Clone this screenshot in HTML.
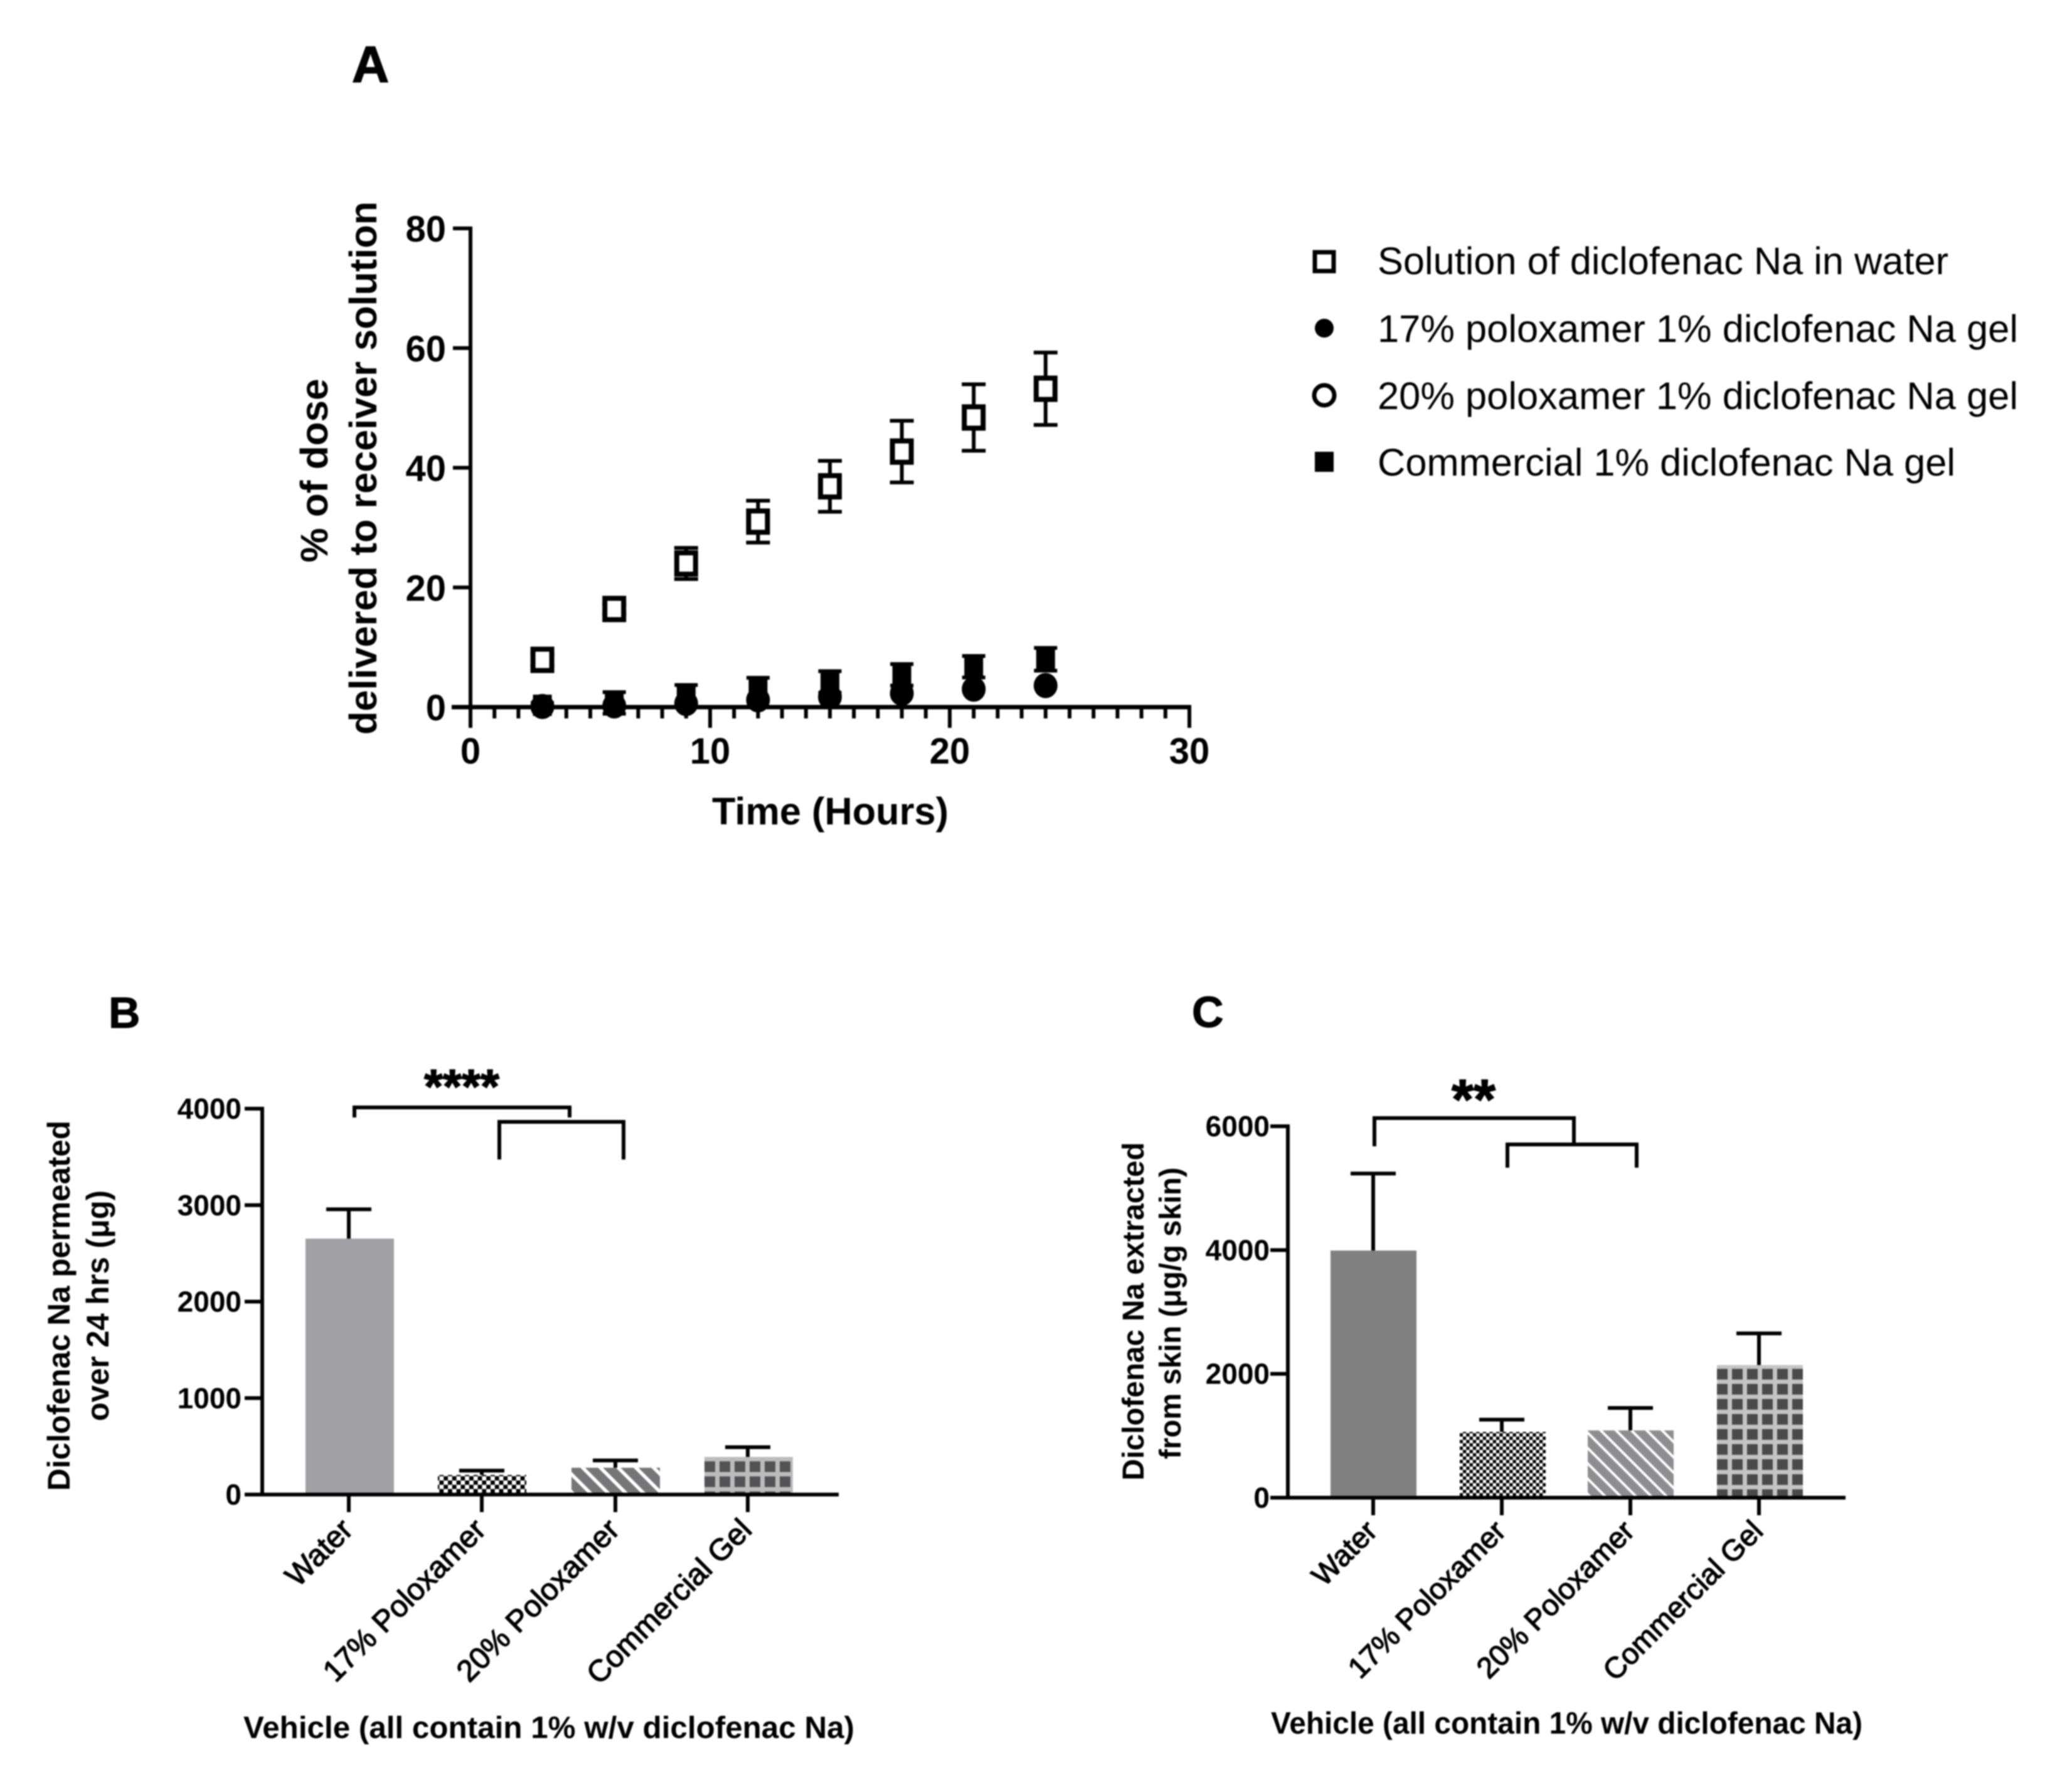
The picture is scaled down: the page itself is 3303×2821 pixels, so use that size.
<!DOCTYPE html>
<html lang="en">
<head>
<meta charset="utf-8">
<title>Diclofenac Na permeation and extraction</title>
<style>
html,body{margin:0;padding:0;background:#fff;}
svg{display:block;filter:blur(1px);}
text{font-family:"Liberation Sans",Arial,sans-serif;fill:#000;}
.b{font-weight:bold;}
</style>
</head>
<body>
<svg id="fig" xmlns="http://www.w3.org/2000/svg" width="3303" height="2821" viewBox="0 0 3303 2821">
<defs>
  <pattern id="checkB" patternUnits="userSpaceOnUse" width="13.6" height="13.6"><rect width="13.6" height="13.6" fill="#fff"/><rect width="6.8" height="6.8" fill="#000"/><rect x="6.8" y="6.8" width="6.8" height="6.8" fill="#000"/></pattern>
  <pattern id="checkC" patternUnits="userSpaceOnUse" width="10.6" height="10.6"><rect width="10.6" height="10.6" fill="#fff"/><rect width="5.3" height="5.3" fill="#000"/><rect x="5.3" y="5.3" width="5.3" height="5.3" fill="#000"/></pattern>
  <pattern id="diagB" patternUnits="userSpaceOnUse" width="20" height="20" patternTransform="rotate(-45)"><rect width="20" height="20" fill="#767678"/><rect width="5.5" height="20" fill="#fff"/></pattern>
  <pattern id="diagC" patternUnits="userSpaceOnUse" width="17.3" height="17.3" patternTransform="rotate(-45)"><rect width="17.3" height="17.3" fill="#8e8e90"/><rect width="4" height="17.3" fill="#fff"/></pattern>
  <pattern id="gridB" patternUnits="userSpaceOnUse" width="24" height="24"><rect width="24" height="24" fill="#bcbcbc"/><rect x="0" y="7" width="17" height="17" fill="#535355"/></pattern>
  <pattern id="gridC" patternUnits="userSpaceOnUse" width="24" height="24"><rect width="24" height="24" fill="#c4c4c4"/><rect x="0" y="6" width="17" height="17" fill="#4a4a4a"/></pattern>
</defs>

<text class="b" x="561" y="131" font-size="82" stroke="#000" stroke-width="1.5">A</text>
<text class="b" x="173" y="1638" font-size="70" stroke="#000" stroke-width="1">B</text>
<text class="b" x="1900" y="1637" font-size="70" stroke="#000" stroke-width="1">C</text>

<text class="b" transform="translate(522,750) rotate(-90)" text-anchor="middle" font-size="61" textLength="293" lengthAdjust="spacingAndGlyphs">% of dose</text>
<text class="b" transform="translate(600,746) rotate(-90)" text-anchor="middle" font-size="61" textLength="850" lengthAdjust="spacingAndGlyphs">delivered to receiver solution</text>
<text class="b" x="1135" y="1314" font-size="61" textLength="377" lengthAdjust="spacingAndGlyphs">Time (Hours)</text>

<text x="2196" y="437" font-size="61" textLength="910" lengthAdjust="spacingAndGlyphs">Solution of diclofenac Na in water</text>
<text x="2196" y="545" font-size="61" textLength="1021" lengthAdjust="spacingAndGlyphs">17% poloxamer 1% diclofenac Na gel</text>
<text x="2196" y="652" font-size="61" textLength="1021" lengthAdjust="spacingAndGlyphs">20% poloxamer 1% diclofenac Na gel</text>
<text x="2196" y="758" font-size="61" textLength="921" lengthAdjust="spacingAndGlyphs">Commercial 1% diclofenac Na gel</text>
<rect x="2096" y="402" width="30" height="30" fill="#fff" stroke="#000" stroke-width="7"/>
<circle cx="2111" cy="523" r="15" fill="#000"/>
<circle cx="2111" cy="630" r="16" fill="#fff" stroke="#000" stroke-width="7"/>
<rect x="2096" y="720" width="30" height="32" fill="#000"/>

<text class="b" transform="translate(111,2081) rotate(-90)" text-anchor="middle" font-size="50" textLength="590" lengthAdjust="spacingAndGlyphs">Diclofenac Na permeated</text>
<text class="b" transform="translate(173,2081) rotate(-90)" text-anchor="middle" font-size="50" textLength="368" lengthAdjust="spacingAndGlyphs">over 24 hrs (μg)</text>
<text class="b" x="388" y="2770" font-size="49" textLength="974" lengthAdjust="spacingAndGlyphs">Vehicle (all contain 1% w/v diclofenac Na)</text>
<text class="b" x="736" y="1758" text-anchor="middle" font-size="77" stroke="#000" stroke-width="1.5">****</text>
<path d="M565 1781V1765H908V1781" fill="none" stroke="#000" stroke-width="6"/>
<path d="M796 1848V1788H994V1848" fill="none" stroke="#000" stroke-width="6"/>

<text class="b" transform="translate(1823,2090) rotate(-90)" text-anchor="middle" font-size="48" textLength="539" lengthAdjust="spacingAndGlyphs">Diclofenac Na extracted</text>
<text class="b" transform="translate(1882,2093) rotate(-90)" text-anchor="middle" font-size="48" textLength="465" lengthAdjust="spacingAndGlyphs">from skin (μg/g skin)</text>
<text class="b" x="2026" y="2763" font-size="49" textLength="943" lengthAdjust="spacingAndGlyphs">Vehicle (all contain 1% w/v diclofenac Na)</text>
<text class="b" x="2349" y="1783" text-anchor="middle" font-size="90" stroke="#000" stroke-width="1.5">**</text>
<path d="M2191 1827V1782H2509V1824" fill="none" stroke="#000" stroke-width="6"/>
<path d="M2403 1861V1824H2609V1861" fill="none" stroke="#000" stroke-width="6"/>

<g id="marks"></g>
</svg>

<script>
// ---- Panel A data ----
const hours = [3, 6, 9, 12, 15, 18, 21, 24];
const waterMean = [7.9, 16.4, 24, 31, 36.9, 42.7, 48.4, 53.2];
const waterErr = [1.0, 0.8, 2.6, 3.5, 4.25, 5.15, 5.55, 6.05];
const p17Mean = [0.1, 0.25, 0.6, 1.3, 1.8, 2.4, 3.1, 3.7];
const p17Err = [0.3, 0.3, 0.3, 0.4, 0.4, 0.4, 0.4, 0.5];
const p20Mean = [0.1, 0.2, 0.6, 1.2, 1.7, 2.3, 3.0, 3.6];
const p20Err = [0.2, 0.2, 0.3, 0.3, 0.3, 0.4, 0.4, 0.4];
const commercialMean = [0.3, 0.7, 1.9, 3.1, 4.2, 5.4, 6.75, 8.0];
const commercialErr = [0.4, 1.8, 1.8, 1.8, 1.8, 1.8, 1.8, 1.9];
const aYTicks = [0, 20, 40, 60, 80];
const aXTicks = [0, 10, 20, 30];
const aXMinorTicks = [1, 2, 3, 4, 5, 6, 7, 8, 9, 11, 12, 13, 14, 15, 16, 17, 18, 19, 21, 22, 23, 24, 25, 26, 27, 28, 29];

// ---- Panels B, C data ----
const vehicles = ['Water', '17% Poloxamer', '20% Poloxamer', 'Commercial Gel'];
const permeatedMean = [2653, 203, 278, 390];
const permeatedErr = [304, 45, 76, 101];
const permeatedTicks = [0, 1000, 2000, 3000, 4000];
const extractedMean = [3992, 1063, 1087, 2142];
const extractedErr = [1244, 197, 362, 512];
const extractedTicks = [0, 2000, 4000, 6000];

const NS = 'http://www.w3.org/2000/svg';
const root = document.getElementById('marks');
function mk(tag, attrs, txt) {
  const el = document.createElementNS(NS, tag);
  for (const k in attrs) el.setAttribute(k, attrs[k]);
  if (txt !== undefined) el.textContent = txt;
  root.appendChild(el);
  return el;
}

// ---- Panel A ----
const ax = v => 750 + v * (1896 - 750) / 30;
const ay = v => 1127 - v * (1127 - 364) / 80;

function errorBar(x, mean, err, capW, prefix) {
  const stem = mk('line', {x1: ax(x), x2: ax(x), y1: ay(mean + err), y2: ay(mean - err), stroke: '#000', 'stroke-width': 6});
  
  
  [mean + err, mean - err].forEach(v => {
    const cap = mk('line', {x1: ax(x) - capW / 2, x2: ax(x) + capW / 2, y1: ay(v), y2: ay(v), stroke: '#000', 'stroke-width': 6});
    
    
  });
}

hours.forEach((h, i) => {
  errorBar(h, waterMean[i], waterErr[i], 38, 'water-' + h + 'h');
  const m = mk('rect', {x: ax(h) - 15, y: ay(waterMean[i]) - 17, width: 30, height: 34, fill: '#fff', stroke: '#000', 'stroke-width': 8});
  
  
});
hours.forEach((h, i) => {
  errorBar(h, p20Mean[i], p20Err[i], 34, 'poloxamer-20-' + h + 'h');
  const m = mk('ellipse', {cx: ax(h), cy: ay(p20Mean[i]), rx: 16, ry: 17, fill: '#fff', stroke: '#000', 'stroke-width': 6});
  
  
});
hours.forEach((h, i) => {
  errorBar(h, commercialMean[i], commercialErr[i], 37, 'commercial-' + h + 'h');
  const m = mk('rect', {x: ax(h) - 15, y: ay(commercialMean[i]) - 17, width: 30, height: 34, fill: '#000'});
  
  
});
hours.forEach((h, i) => {
  errorBar(h, p17Mean[i], p17Err[i], 34, 'poloxamer-17-' + h + 'h');
  const m = mk('ellipse', {cx: ax(h), cy: ay(p17Mean[i]), rx: 18.5, ry: 19, fill: '#000'});
  
  
});

const aYAxis = mk('line', {x1: ax(0), x2: ax(0), y1: ay(80) - 3, y2: 1160, stroke: '#000', 'stroke-width': 6});


const aXAxis = mk('line', {x1: 720, x2: ax(30) + 3, y1: ay(0), y2: ay(0), stroke: '#000', 'stroke-width': 7});



aYTicks.forEach(v => {
  const t = mk('line', {x1: 722, x2: ax(0), y1: ay(v), y2: ay(v), stroke: '#000', 'stroke-width': 6});
  
  
  const l = mk('text', {x: 711, y: ay(v) + 21, 'text-anchor': 'end', 'font-size': 58, class: 'b'}, v);
  
  
});
aXTicks.forEach(v => {
  const t = mk('line', {x1: ax(v), x2: ax(v), y1: ay(0), y2: 1160, stroke: '#000', 'stroke-width': 6});
  
  
  const l = mk('text', {x: ax(v), y: 1217, 'text-anchor': 'middle', 'font-size': 58, class: 'b'}, v);
  
  
});
aXMinorTicks.forEach(v => {
  const t = mk('line', {x1: ax(v), x2: ax(v), y1: ay(0), y2: 1145, stroke: '#000', 'stroke-width': 6});
  
  
});

// ---- Panels B and C ----
function barPanel(p, cats, means, errs, ticks) {
  const y = v => p.y0 - v * (p.y0 - p.yTop) / p.yMax;
  means.forEach((v, i) => {
    const pat = document.getElementById(p.grid);
    if (i === 3) pat.setAttribute('patternTransform', 'translate(' + p.barLefts[i] + ',' + y(v) + ')');
    const bar = mk('rect', {x: p.barLefts[i], y: y(v), width: p.barW, height: p.y0 - y(v), fill: p.fills[i]});
    
    
    const stem = mk('line', {x1: p.ticks[i], x2: p.ticks[i], y1: y(v), y2: y(v + errs[i]), stroke: '#000', 'stroke-width': 6});
    
    
    const cap = mk('line', {x1: p.ticks[i] - 36, x2: p.ticks[i] + 36, y1: y(v + errs[i]), y2: y(v + errs[i]), stroke: '#000', 'stroke-width': 6});
    
    
    const t = mk('line', {x1: p.ticks[i], x2: p.ticks[i], y1: p.y0, y2: p.y0 + 28, stroke: '#000', 'stroke-width': 6});
    
    
    const ex = p.ticks[i] + 9;
    const l = mk('text', {transform: 'translate(' + ex + ',' + p.labelY + ') rotate(-45)', 'text-anchor': 'end', 'font-size': p.labelSize, stroke: '#000', 'stroke-width': 1.3}, cats[i]);
    
    
  });
  const ya = mk('line', {x1: p.axisX, x2: p.axisX, y1: y(p.yMax) - 3, y2: p.y0, stroke: '#000', 'stroke-width': 6});
  
  
  const xa = mk('line', {x1: p.axisX - 28, x2: p.xEnd, y1: p.y0, y2: p.y0, stroke: '#000', 'stroke-width': 6});
  
  
  ticks.forEach(v => {
    const t = mk('line', {x1: p.axisX - 28, x2: p.axisX, y1: y(v), y2: y(v), stroke: '#000', 'stroke-width': 6});
    
    
    const l = mk('text', {x: p.axisX - p.labelGap, y: y(v) + 16, 'text-anchor': 'end', 'font-size': 46, class: 'b'}, v);
    
    
  });
}

barPanel({id: 'panel-b', y0: 2382, yTop: 1767, yMax: 4000, axisX: 418, xEnd: 1337, barW: 141, labelY: 2441, labelSize: 48.5, labelGap: 33,
  barLefts: [487, 698, 911, 1123], ticks: [556, 768, 981, 1192], grid: 'gridB',
  fills: ['#a1a1a5', 'url(#checkB)', 'url(#diagB)', 'url(#gridB)']}, vehicles, permeatedMean, permeatedErr, permeatedTicks);
barPanel({id: 'panel-c', y0: 2387, yTop: 1795, yMax: 6000, axisX: 2053, xEnd: 2942, barW: 137, labelY: 2443, labelSize: 47, labelGap: 29,
  barLefts: [2121, 2327, 2531, 2737], ticks: [2189, 2394, 2599, 2804], grid: 'gridC',
  fills: ['#808080', 'url(#checkC)', 'url(#diagC)', 'url(#gridC)']}, vehicles, extractedMean, extractedErr, extractedTicks);
</script>
</body>
</html>
